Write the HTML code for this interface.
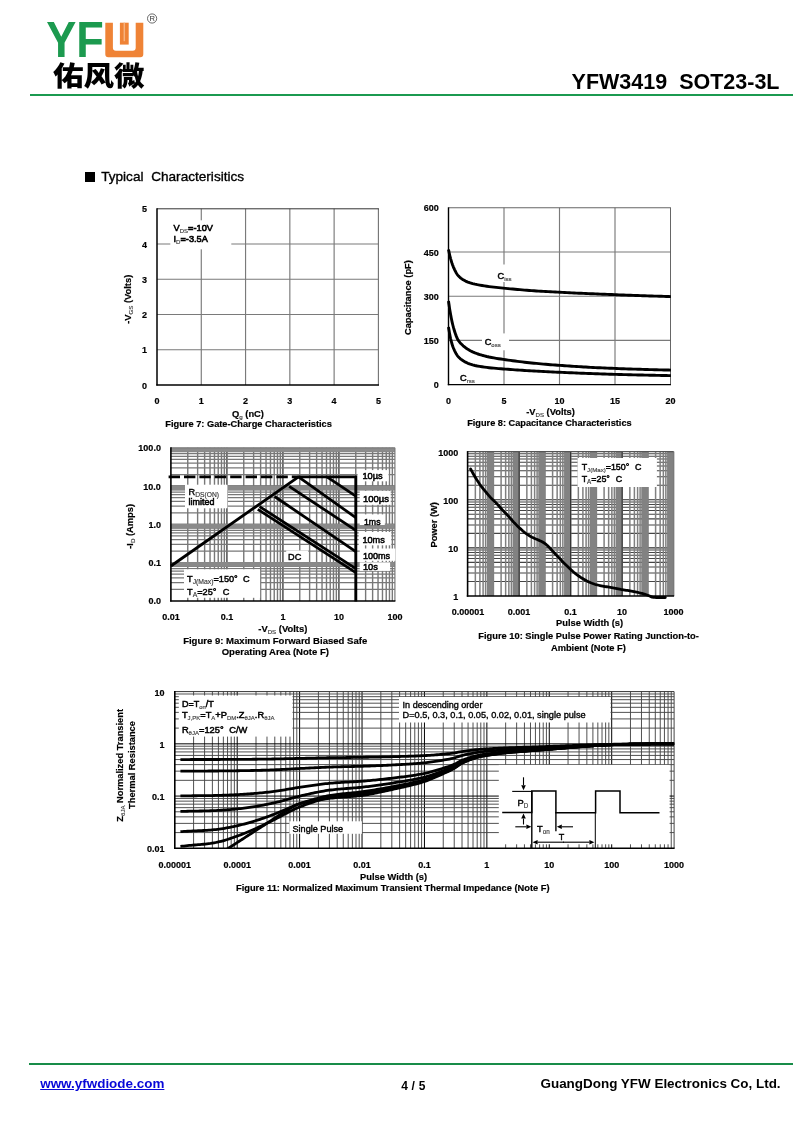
<!DOCTYPE html>
<html lang="en">
<head>
<meta charset="utf-8">
<title>YFW3419 SOT23-3L - Typical Characteristics</title>
<style>
html,body{margin:0;padding:0;background:#fff;}
body{width:800px;height:1125px;position:relative;overflow:hidden;font-family:"Liberation Sans","Noto Sans CJK SC",sans-serif;color:#000;}
.abs{position:absolute;white-space:nowrap;line-height:1;}
#rule-top{left:30px;top:94px;width:762.7px;height:2.3px;background:#1b9a50;}
#rule-bot{left:29.3px;top:1062.8px;width:763.4px;height:2.2px;background:#188c48;}
#part{right:20.5px;top:72.2px;font-size:21.5px;font-weight:bold;letter-spacing:0px;word-spacing:6px;}
#sq{left:84.5px;top:172px;width:10px;height:10px;background:#000;}
#sect{left:101.2px;top:170px;font-size:13.6px;word-spacing:3.9px;-webkit-text-stroke:0.35px #000;}
#url{left:40.2px;top:1077.4px;font-size:13.45px;font-weight:bold;color:#0808d8;text-decoration:underline;text-decoration-thickness:1.2px;text-underline-offset:1.2px;}
#pageno{left:401.2px;top:1080.4px;font-size:12px;font-weight:bold;word-spacing:0.4px;}
#corp{right:19.4px;top:1077.2px;font-size:13.45px;font-weight:bold;}
#cn{left:53px;top:62.6px;font-size:27.6px;font-weight:900;transform:scale(1.105,1);transform-origin:0 0;}
svg{position:absolute;left:0;top:0;}
svg text{font-family:"Liberation Sans","Noto Sans CJK SC",sans-serif;fill:#000;}
</style>
</head>
<body>
<div class="abs" id="rule-top"></div>
<div class="abs" id="cn">佑风微</div>
<div class="abs" id="part">YFW3419 SOT23-3L</div>
<div class="abs" id="sq"></div>
<div class="abs" id="sect">Typical Characterisitics</div>
<div class="abs" id="rule-bot"></div>
<div class="abs" id="url">www.yfwdiode.com</div>
<div class="abs" id="pageno">4 / 5</div>
<div class="abs" id="corp">GuangDong YFW Electronics Co, Ltd.</div>
<svg width="800" height="1125" viewBox="0 0 800 1125">
<g id="logo">
<text x="46.2" y="57.2" font-size="50.6" font-weight="bold" style="fill:#1c9a4f" textLength="57.6" lengthAdjust="spacingAndGlyphs">YF</text>
<path d="M105.3 22.7H112.9V47.7Q112.9 50.7 115.9 50.7H132.7Q135.7 50.7 135.7 47.7V22.7H143.3V54.2Q143.3 57.2 140.3 57.2H108.3Q105.3 57.2 105.3 54.2Z" fill="#ef8336"/>
<path d="M119.9 22.7H128.7V44.6H119.9Z" fill="#ef8336"/>
<path d="M124.3 22.7V41.2" stroke="#f7b27e" stroke-width="1.5" fill="none"/>
<circle cx="152.1" cy="18.5" r="4.6" fill="none" stroke="#444" stroke-width="0.8"/>
<text x="152.2" y="21.3" font-size="7.6" text-anchor="middle" style="fill:#333">R</text>
</g>
<g id="fig7">
<path d="M201.28 208.8V385M157 244.04H378.4M245.56 208.8V385M157 279.28H378.4M289.84 208.8V385M157 314.52H378.4M334.12 208.8V385M157 349.76H378.4" stroke="#7a7a7a" stroke-width="1.15" fill="none"/>
<line x1="378.4" y1="208.8" x2="378.4" y2="385.6" stroke="#707070" stroke-width="1.1"/>
<line x1="157" y1="208.8" x2="378.9" y2="208.8" stroke="#333" stroke-width="1.0"/>
<line x1="157" y1="208.3" x2="157" y2="385.6" stroke="#000" stroke-width="1.5"/>
<line x1="156.3" y1="385" x2="378.9" y2="385" stroke="#000" stroke-width="1.3"/>
<rect x="170.3" y="220.3" width="61" height="29" fill="#fff"/>
<text x="173.5" y="230.8" font-size="9.2" text-anchor="start" stroke="#000" stroke-width="0.6">V<tspan font-size="6.1" baseline-shift="-2.3" font-weight="normal" stroke="#444" stroke-width="0.15" style="fill:#333">DS</tspan>=-10V</text>
<text x="173.5" y="241.8" font-size="9.2" text-anchor="start" stroke="#000" stroke-width="0.6">I<tspan font-size="6.1" baseline-shift="-2.3" font-weight="normal" stroke="#444" stroke-width="0.15" style="fill:#333">D</tspan>=-3.5A</text>
<text x="144.6" y="388.6" font-size="9.0" font-weight="bold" stroke="#000" stroke-width="0.18" text-anchor="middle">0</text>
<text x="157" y="404.1" font-size="9.0" font-weight="bold" stroke="#000" stroke-width="0.18" text-anchor="middle">0</text>
<text x="144.6" y="353.36" font-size="9.0" font-weight="bold" stroke="#000" stroke-width="0.18" text-anchor="middle">1</text>
<text x="201.28" y="404.1" font-size="9.0" font-weight="bold" stroke="#000" stroke-width="0.18" text-anchor="middle">1</text>
<text x="144.6" y="318.12" font-size="9.0" font-weight="bold" stroke="#000" stroke-width="0.18" text-anchor="middle">2</text>
<text x="245.56" y="404.1" font-size="9.0" font-weight="bold" stroke="#000" stroke-width="0.18" text-anchor="middle">2</text>
<text x="144.6" y="282.88" font-size="9.0" font-weight="bold" stroke="#000" stroke-width="0.18" text-anchor="middle">3</text>
<text x="289.84" y="404.1" font-size="9.0" font-weight="bold" stroke="#000" stroke-width="0.18" text-anchor="middle">3</text>
<text x="144.6" y="247.64" font-size="9.0" font-weight="bold" stroke="#000" stroke-width="0.18" text-anchor="middle">4</text>
<text x="334.12" y="404.1" font-size="9.0" font-weight="bold" stroke="#000" stroke-width="0.18" text-anchor="middle">4</text>
<text x="144.6" y="212.4" font-size="9.0" font-weight="bold" stroke="#000" stroke-width="0.18" text-anchor="middle">5</text>
<text x="378.4" y="404.1" font-size="9.0" font-weight="bold" stroke="#000" stroke-width="0.18" text-anchor="middle">5</text>
<text x="248" y="416.6" font-size="9.3" font-weight="bold" stroke="#000" stroke-width="0.18" text-anchor="middle">Q<tspan font-size="6.2" baseline-shift="-2.3" font-weight="normal" stroke="#444" stroke-width="0.15" style="fill:#333">g</tspan> (nC)</text>
<text x="248.6" y="426.8" font-size="9.25" font-weight="bold" stroke="#000" stroke-width="0.18" text-anchor="middle">Figure 7: Gate-Charge Characteristics</text>
<text transform="translate(131.4 299.3) rotate(-90)" font-size="9.3" font-weight="bold" stroke="#000" stroke-width="0.18" text-anchor="middle">-V<tspan font-size="6.2" baseline-shift="-2.3" font-weight="normal" stroke="#444" stroke-width="0.15" style="fill:#333">GS</tspan> (Volts)</text>
</g>
<g id="fig8">
<path d="M504 207.8V384.6M448.5 252H670.5M559.5 207.8V384.6M448.5 296.2H670.5M615 207.8V384.6M448.5 340.4H670.5" stroke="#7a7a7a" stroke-width="1.15" fill="none"/>
<line x1="670.5" y1="207.8" x2="670.5" y2="385.1" stroke="#555" stroke-width="0.9"/>
<line x1="448.5" y1="207.8" x2="670.9" y2="207.8" stroke="#666" stroke-width="1.1"/>
<line x1="448.5" y1="207.3" x2="448.5" y2="385.2" stroke="#000" stroke-width="1.4"/>
<line x1="447.8" y1="384.6" x2="670.9" y2="384.6" stroke="#000" stroke-width="1.25"/>
<rect x="494" y="264.5" width="20" height="17.5" fill="#fff"/>
<rect x="482" y="333.4" width="27" height="16.9" fill="#fff"/>
<path d="M448.5 249.5 L448.81 250.99 L449.12 252.45 L449.42 253.85 L449.73 255.2 L450.04 256.48 L450.35 257.7 L450.65 258.84 L450.96 259.91 L451.27 260.95 L451.58 261.95 L451.88 262.91 L452.19 263.83 L452.5 264.72 L452.81 265.55 L453.12 266.35 L453.42 267.09 L453.73 267.79 L454.04 268.47 L454.35 269.14 L454.65 269.79 L454.96 270.42 L455.27 271.03 L455.58 271.62 L455.88 272.19 L456.19 272.74 L456.5 273.26 L456.81 273.75 L457.12 274.22 L457.42 274.65 L457.73 275.06 L458.04 275.43 L458.35 275.78 L458.65 276.11 L458.96 276.43 L459.27 276.74 L459.58 277.04 L459.88 277.33 L460.19 277.61 L460.5 277.88 L460.8 278.13 L463.16 279.81 L465.52 281.08 L467.88 282.07 L470.24 282.88 L472.6 283.58 L474.96 284.18 L477.32 284.69 L479.69 285.14 L482.05 285.55 L484.41 285.92 L486.77 286.27 L489.13 286.59 L491.49 286.89 L493.85 287.16 L496.21 287.42 L498.57 287.67 L500.93 287.9 L503.29 288.13 L505.65 288.36 L508.01 288.59 L510.37 288.82 L512.73 289.04 L515.1 289.26 L517.46 289.48 L519.82 289.68 L522.18 289.89 L524.54 290.08 L526.9 290.27 L529.26 290.45 L531.62 290.62 L533.98 290.78 L536.34 290.94 L538.7 291.09 L541.06 291.24 L543.42 291.38 L545.78 291.52 L548.14 291.66 L550.51 291.79 L552.87 291.92 L555.23 292.05 L557.59 292.17 L559.95 292.3 L562.31 292.42 L564.67 292.54 L567.03 292.65 L569.39 292.77 L571.75 292.88 L574.11 292.99 L576.47 293.1 L578.83 293.2 L581.19 293.31 L583.56 293.41 L585.92 293.51 L588.28 293.61 L590.64 293.71 L593 293.81 L595.36 293.91 L597.72 294.01 L600.08 294.1 L602.44 294.2 L604.8 294.29 L607.16 294.39 L609.52 294.48 L611.88 294.57 L614.24 294.66 L616.6 294.75 L618.97 294.84 L621.33 294.93 L623.69 295.02 L626.05 295.1 L628.41 295.19 L630.77 295.28 L633.13 295.36 L635.49 295.44 L637.85 295.53 L640.21 295.61 L642.57 295.69 L644.93 295.77 L647.29 295.85 L649.65 295.93 L652.01 296.01 L654.38 296.08 L656.74 296.16 L659.1 296.23 L661.46 296.31 L663.82 296.38 L666.18 296.46 L668.54 296.53 L670.9 296.6" stroke="#000" stroke-width="2.9" fill="none" stroke-linejoin="round"/>
<path d="M448.5 301 L448.81 303.18 L449.12 305.31 L449.42 307.37 L449.73 309.35 L450.04 311.25 L450.35 313.05 L450.65 314.75 L450.96 316.37 L451.27 317.95 L451.58 319.48 L451.88 320.96 L452.19 322.38 L452.5 323.74 L452.81 325.03 L453.12 326.24 L453.42 327.38 L453.73 328.44 L454.04 329.48 L454.35 330.49 L454.65 331.47 L454.96 332.43 L455.27 333.36 L455.58 334.26 L455.88 335.12 L456.19 335.94 L456.5 336.72 L456.81 337.46 L457.12 338.15 L457.42 338.79 L457.73 339.37 L458.04 339.9 L458.35 340.38 L458.65 340.84 L458.96 341.28 L459.27 341.7 L459.58 342.1 L459.88 342.49 L460.19 342.85 L460.5 343.2 L460.8 343.53 L463.16 345.78 L465.52 347.72 L467.88 349.36 L470.24 350.73 L472.6 351.89 L474.96 352.89 L477.32 353.75 L479.69 354.52 L482.05 355.23 L484.41 355.88 L486.77 356.48 L489.13 357.02 L491.49 357.5 L493.85 357.93 L496.21 358.33 L498.57 358.7 L500.93 359.05 L503.29 359.4 L505.65 359.74 L508.01 360.07 L510.37 360.4 L512.73 360.72 L515.1 361.04 L517.46 361.34 L519.82 361.64 L522.18 361.93 L524.54 362.2 L526.9 362.47 L529.26 362.72 L531.62 362.97 L533.98 363.2 L536.34 363.43 L538.7 363.66 L541.06 363.87 L543.42 364.08 L545.78 364.29 L548.14 364.49 L550.51 364.68 L552.87 364.87 L555.23 365.05 L557.59 365.22 L559.95 365.4 L562.31 365.56 L564.67 365.73 L567.03 365.89 L569.39 366.05 L571.75 366.21 L574.11 366.36 L576.47 366.51 L578.83 366.66 L581.19 366.8 L583.56 366.94 L585.92 367.07 L588.28 367.21 L590.64 367.33 L593 367.46 L595.36 367.58 L597.72 367.69 L600.08 367.8 L602.44 367.91 L604.8 368.02 L607.16 368.12 L609.52 368.22 L611.88 368.31 L614.24 368.41 L616.6 368.5 L618.97 368.59 L621.33 368.68 L623.69 368.76 L626.05 368.85 L628.41 368.93 L630.77 369.01 L633.13 369.08 L635.49 369.16 L637.85 369.23 L640.21 369.31 L642.57 369.38 L644.93 369.45 L647.29 369.51 L649.65 369.58 L652.01 369.65 L654.38 369.71 L656.74 369.77 L659.1 369.83 L661.46 369.89 L663.82 369.94 L666.18 370 L668.54 370.05 L670.9 370.1" stroke="#000" stroke-width="2.9" fill="none" stroke-linejoin="round"/>
<path d="M448.5 327 L448.81 328.94 L449.12 330.82 L449.42 332.62 L449.73 334.34 L450.04 335.95 L450.35 337.44 L450.65 338.81 L450.96 340.06 L451.27 341.27 L451.58 342.41 L451.88 343.5 L452.19 344.54 L452.5 345.51 L452.81 346.43 L453.12 347.28 L453.42 348.07 L453.73 348.81 L454.04 349.51 L454.35 350.19 L454.65 350.85 L454.96 351.49 L455.27 352.1 L455.58 352.69 L455.88 353.25 L456.19 353.78 L456.5 354.29 L456.81 354.78 L457.12 355.23 L457.42 355.66 L457.73 356.06 L458.04 356.43 L458.35 356.78 L458.65 357.11 L458.96 357.43 L459.27 357.73 L459.58 358.03 L459.88 358.31 L460.19 358.59 L460.5 358.85 L460.8 359.1 L463.16 360.79 L465.52 362.15 L467.88 363.29 L470.24 364.18 L472.6 364.9 L474.96 365.49 L477.32 365.98 L479.69 366.4 L482.05 366.78 L484.41 367.12 L486.77 367.43 L489.13 367.7 L491.49 367.96 L493.85 368.18 L496.21 368.39 L498.57 368.58 L500.93 368.76 L503.29 368.95 L505.65 369.13 L508.01 369.31 L510.37 369.48 L512.73 369.66 L515.1 369.83 L517.46 369.99 L519.82 370.16 L522.18 370.31 L524.54 370.47 L526.9 370.61 L529.26 370.76 L531.62 370.89 L533.98 371.03 L536.34 371.16 L538.7 371.28 L541.06 371.4 L543.42 371.52 L545.78 371.64 L548.14 371.75 L550.51 371.87 L552.87 371.98 L555.23 372.08 L557.59 372.19 L559.95 372.3 L562.31 372.4 L564.67 372.51 L567.03 372.61 L569.39 372.71 L571.75 372.82 L574.11 372.92 L576.47 373.02 L578.83 373.11 L581.19 373.21 L583.56 373.3 L585.92 373.4 L588.28 373.49 L590.64 373.57 L593 373.66 L595.36 373.74 L597.72 373.82 L600.08 373.9 L602.44 373.98 L604.8 374.05 L607.16 374.13 L609.52 374.2 L611.88 374.27 L614.24 374.33 L616.6 374.4 L618.97 374.47 L621.33 374.53 L623.69 374.59 L626.05 374.65 L628.41 374.72 L630.77 374.78 L633.13 374.83 L635.49 374.89 L637.85 374.95 L640.21 375.01 L642.57 375.06 L644.93 375.11 L647.29 375.17 L649.65 375.22 L652.01 375.27 L654.38 375.32 L656.74 375.37 L659.1 375.42 L661.46 375.47 L663.82 375.52 L666.18 375.56 L668.54 375.61 L670.9 375.65" stroke="#000" stroke-width="2.9" fill="none" stroke-linejoin="round"/>
<text x="497.6" y="278.6" font-size="9.2" text-anchor="start" stroke="#000" stroke-width="0.5">C<tspan font-size="6" baseline-shift="-2.3" font-weight="normal" stroke="#444" stroke-width="0.15" style="fill:#333">iss</tspan></text>
<text x="484.7" y="344.7" font-size="9.2" text-anchor="start" stroke="#000" stroke-width="0.5">C<tspan font-size="6" baseline-shift="-2.3" font-weight="normal" stroke="#444" stroke-width="0.15" style="fill:#333">oss</tspan></text>
<text x="460" y="380.9" font-size="9.2" text-anchor="start" stroke="#000" stroke-width="0.5">C<tspan font-size="6" baseline-shift="-2.3" font-weight="normal" stroke="#444" stroke-width="0.15" style="fill:#333">rss</tspan></text>
<text x="438.7" y="388.1" font-size="9.0" font-weight="bold" stroke="#000" stroke-width="0.18" text-anchor="end">0</text>
<text x="438.7" y="343.9" font-size="9.0" font-weight="bold" stroke="#000" stroke-width="0.18" text-anchor="end">150</text>
<text x="438.7" y="299.7" font-size="9.0" font-weight="bold" stroke="#000" stroke-width="0.18" text-anchor="end">300</text>
<text x="438.7" y="255.5" font-size="9.0" font-weight="bold" stroke="#000" stroke-width="0.18" text-anchor="end">450</text>
<text x="438.7" y="211.3" font-size="9.0" font-weight="bold" stroke="#000" stroke-width="0.18" text-anchor="end">600</text>
<text x="448.5" y="403.8" font-size="9.0" font-weight="bold" stroke="#000" stroke-width="0.18" text-anchor="middle">0</text>
<text x="504" y="403.8" font-size="9.0" font-weight="bold" stroke="#000" stroke-width="0.18" text-anchor="middle">5</text>
<text x="559.5" y="403.8" font-size="9.0" font-weight="bold" stroke="#000" stroke-width="0.18" text-anchor="middle">10</text>
<text x="615" y="403.8" font-size="9.0" font-weight="bold" stroke="#000" stroke-width="0.18" text-anchor="middle">15</text>
<text x="670.5" y="403.8" font-size="9.0" font-weight="bold" stroke="#000" stroke-width="0.18" text-anchor="middle">20</text>
<text x="550.5" y="415.3" font-size="9.3" font-weight="bold" stroke="#000" stroke-width="0.18" text-anchor="middle">-V<tspan font-size="6.2" baseline-shift="-2.3" font-weight="normal" stroke="#444" stroke-width="0.15" style="fill:#333">DS</tspan> (Volts)</text>
<text x="549.4" y="425.9" font-size="9.2" font-weight="bold" stroke="#000" stroke-width="0.18" text-anchor="middle">Figure 8: Capacitance Characteristics</text>
<text transform="translate(411 297.6) rotate(-90)" font-size="9.3" font-weight="bold" stroke="#000" stroke-width="0.18" text-anchor="middle">Capacitance (pF)</text>
</g>
<g id="fig9">
<path d="M187.76 447.8V600.9M197.62 447.8V600.9M204.62 447.8V600.9M210.04 447.8V600.9M214.48 447.8V600.9M218.23 447.8V600.9M221.47 447.8V600.9M224.34 447.8V600.9M243.76 447.8V600.9M253.62 447.8V600.9M260.62 447.8V600.9M266.04 447.8V600.9M270.48 447.8V600.9M274.23 447.8V600.9M277.47 447.8V600.9M280.34 447.8V600.9M299.76 447.8V600.9M309.62 447.8V600.9M316.62 447.8V600.9M322.04 447.8V600.9M326.48 447.8V600.9M330.23 447.8V600.9M333.47 447.8V600.9M336.34 447.8V600.9M355.76 447.8V600.9M365.62 447.8V600.9M372.62 447.8V600.9M378.04 447.8V600.9M382.48 447.8V600.9M386.23 447.8V600.9M389.47 447.8V600.9M392.34 447.8V600.9" stroke="#787878" stroke-width="1.4" fill="none"/>
<path d="M226.9 447.8V600.9M282.9 447.8V600.9M338.9 447.8V600.9" stroke="#5a5a5a" stroke-width="1.6" fill="none"/>
<path d="M170.9 589.38H394.9M170.9 582.64H394.9M170.9 577.86H394.9M170.9 574.15H394.9M170.9 571.12H394.9M170.9 568.55H394.9M170.9 566.33H394.9M170.9 564.38H394.9M170.9 551.1H394.9M170.9 544.36H394.9M170.9 539.58H394.9M170.9 535.87H394.9M170.9 532.84H394.9M170.9 530.28H394.9M170.9 528.06H394.9M170.9 526.1H394.9M170.9 512.83H394.9M170.9 506.09H394.9M170.9 501.31H394.9M170.9 497.6H394.9M170.9 494.57H394.9M170.9 492H394.9M170.9 489.78H394.9M170.9 487.83H394.9M170.9 474.55H394.9M170.9 467.81H394.9M170.9 463.03H394.9M170.9 459.32H394.9M170.9 456.29H394.9M170.9 453.73H394.9M170.9 451.51H394.9M170.9 449.55H394.9" stroke="#787878" stroke-width="1.25" fill="none"/>
<path d="M170.9 562.62H394.9M170.9 524.35H394.9M170.9 486.07H394.9" stroke="#5a5a5a" stroke-width="1.4" fill="none"/>
<rect x="170.9" y="562.02" width="224" height="4.71" fill="#8a8a8a"/>
<rect x="170.9" y="523.75" width="224" height="4.71" fill="#8a8a8a"/>
<rect x="170.9" y="485.47" width="224" height="4.71" fill="#8a8a8a"/>
<rect x="170.9" y="447.8" width="224" height="4.11" fill="#8c8c8c"/>
<line x1="394.9" y1="447.8" x2="394.9" y2="600.9" stroke="#7a7a7a" stroke-width="1.2"/>
<line x1="170.9" y1="447.8" x2="394.9" y2="447.8" stroke="#7a7a7a" stroke-width="1.2"/>
<line x1="170.9" y1="447.3" x2="170.9" y2="601.6" stroke="#000" stroke-width="1.6"/>
<line x1="170.1" y1="600.9" x2="395.4" y2="600.9" stroke="#000" stroke-width="1.5"/>
<rect x="185" y="484.7" width="42.4" height="23.6" fill="#fff"/>
<rect x="184" y="569.3" width="76.1" height="28.5" fill="#fff"/>
<rect x="286.2" y="550.5" width="22" height="11.5" fill="#fff"/>
<rect x="357.6" y="470.1" width="30.9" height="11.2" fill="#fff"/>
<rect x="359.7" y="490.9" width="31" height="13.9" fill="#fff"/>
<rect x="359.7" y="514.4" width="25.1" height="10.6" fill="#fff"/>
<rect x="358.7" y="532" width="32.5" height="13.3" fill="#fff"/>
<rect x="359.7" y="548.5" width="35.7" height="12.3" fill="#fff"/>
<rect x="359.7" y="562.4" width="30.4" height="8.5" fill="#fff"/>
<line x1="168.6" y1="476.9" x2="298.5" y2="476.9" stroke="#000" stroke-width="2.8" stroke-dasharray="11.4 4"/>
<path d="M170.9 566 L298.5 476.9 H355.8 V601.4" stroke="#000" stroke-width="2.9" fill="none" stroke-linejoin="miter"/>
<line x1="326.9" y1="476.9" x2="355.8" y2="496.2" stroke="#000" stroke-width="2.8"/>
<line x1="298.5" y1="476.9" x2="355.8" y2="517.7" stroke="#000" stroke-width="2.8"/>
<line x1="289.2" y1="486.3" x2="355.8" y2="530.4" stroke="#000" stroke-width="2.8"/>
<line x1="274.6" y1="496.5" x2="355.8" y2="551.6" stroke="#000" stroke-width="2.8"/>
<line x1="259.6" y1="506.6" x2="355.8" y2="568.6" stroke="#000" stroke-width="2.8"/>
<line x1="257.8" y1="509.4" x2="355.8" y2="572.6" stroke="#000" stroke-width="2.8"/>
<text x="188.6" y="494.5" font-size="9.2" text-anchor="start" stroke="#000" stroke-width="0.4">R<tspan font-size="6.7" baseline-shift="-2.3" font-weight="normal" stroke="#444" stroke-width="0.15" style="fill:#333">DS(ON)</tspan></text>
<text x="188.6" y="505.3" font-size="9.2" text-anchor="start" stroke="#000" stroke-width="0.55" textLength="25.9" lengthAdjust="spacingAndGlyphs">limited</text>
<text x="187" y="581.9" font-size="9.2" text-anchor="start" stroke="#000" stroke-width="0.45">T<tspan font-size="6.8" baseline-shift="-2.3" font-weight="normal" stroke="#444" stroke-width="0.15" style="fill:#333">J(Max)</tspan>=150°</text>
<text x="243" y="581.9" font-size="9.2" text-anchor="start" stroke="#000" stroke-width="0.45">C</text>
<text x="187" y="594.5" font-size="9.2" text-anchor="start" stroke="#000" stroke-width="0.45">T<tspan font-size="6.8" baseline-shift="-2.3" font-weight="normal" stroke="#444" stroke-width="0.15" style="fill:#333">A</tspan>=25°</text>
<text x="222.7" y="594.5" font-size="9.2" text-anchor="start" stroke="#000" stroke-width="0.45">C</text>
<text x="288" y="560" font-size="9.2" text-anchor="start" stroke="#000" stroke-width="0.4">DC</text>
<text x="362.4" y="478.7" font-size="9.2" text-anchor="start" stroke="#000" stroke-width="0.5" textLength="20.3" lengthAdjust="spacingAndGlyphs">10µs</text>
<text x="362.9" y="502.1" font-size="9.2" text-anchor="start" stroke="#000" stroke-width="0.5" textLength="26.1" lengthAdjust="spacingAndGlyphs">100µs</text>
<text x="364" y="525" font-size="9.2" text-anchor="start" stroke="#000" stroke-width="0.5" textLength="16.5" lengthAdjust="spacingAndGlyphs">1ms</text>
<text x="362.4" y="542.7" font-size="9.2" text-anchor="start" stroke="#000" stroke-width="0.5" textLength="22.4" lengthAdjust="spacingAndGlyphs">10ms</text>
<text x="362.9" y="559.2" font-size="9.2" text-anchor="start" stroke="#000" stroke-width="0.5" textLength="27.2" lengthAdjust="spacingAndGlyphs">100ms</text>
<text x="362.9" y="570.4" font-size="9.2" text-anchor="start" stroke="#000" stroke-width="0.5" textLength="15" lengthAdjust="spacingAndGlyphs">10s</text>
<text x="160.9" y="604.4" font-size="9.0" font-weight="bold" stroke="#000" stroke-width="0.18" text-anchor="end">0.0</text>
<text x="160.9" y="566.12" font-size="9.0" font-weight="bold" stroke="#000" stroke-width="0.18" text-anchor="end">0.1</text>
<text x="160.9" y="527.85" font-size="9.0" font-weight="bold" stroke="#000" stroke-width="0.18" text-anchor="end">1.0</text>
<text x="160.9" y="489.57" font-size="9.0" font-weight="bold" stroke="#000" stroke-width="0.18" text-anchor="end">10.0</text>
<text x="160.9" y="451.3" font-size="9.0" font-weight="bold" stroke="#000" stroke-width="0.18" text-anchor="end">100.0</text>
<text x="170.9" y="619.8" font-size="9.0" font-weight="bold" stroke="#000" stroke-width="0.18" text-anchor="middle">0.01</text>
<text x="226.9" y="619.8" font-size="9.0" font-weight="bold" stroke="#000" stroke-width="0.18" text-anchor="middle">0.1</text>
<text x="282.9" y="619.8" font-size="9.0" font-weight="bold" stroke="#000" stroke-width="0.18" text-anchor="middle">1</text>
<text x="338.9" y="619.8" font-size="9.0" font-weight="bold" stroke="#000" stroke-width="0.18" text-anchor="middle">10</text>
<text x="394.9" y="619.8" font-size="9.0" font-weight="bold" stroke="#000" stroke-width="0.18" text-anchor="middle">100</text>
<text x="282.8" y="631.9" font-size="9.4" font-weight="bold" stroke="#000" stroke-width="0.18" text-anchor="middle">-V<tspan font-size="6.2" baseline-shift="-2.3" font-weight="normal" stroke="#444" stroke-width="0.15" style="fill:#333">DS</tspan> (Volts)</text>
<text x="275.2" y="643.6" font-size="9.55" font-weight="bold" stroke="#000" stroke-width="0.18" text-anchor="middle">Figure 9: Maximum Forward Biased Safe</text>
<text x="275.3" y="655.4" font-size="9.55" font-weight="bold" stroke="#000" stroke-width="0.18" text-anchor="middle">Operating Area (Note F)</text>
<text transform="translate(133.1 526.4) rotate(-90)" font-size="9.3" font-weight="bold" stroke="#000" stroke-width="0.18" text-anchor="middle">-I<tspan font-size="6.2" baseline-shift="-2.3" font-weight="normal" stroke="#444" stroke-width="0.15" style="fill:#333">D</tspan> (Amps)</text>
</g>
<g id="fig10">
<path d="M467.6 581.51H673.6M467.6 573.03H673.6M467.6 567.02H673.6M467.6 562.36H673.6M467.6 558.54H673.6M467.6 555.32H673.6M467.6 552.53H673.6M467.6 550.07H673.6M467.6 533.38H673.6M467.6 524.9H673.6M467.6 518.89H673.6M467.6 514.22H673.6M467.6 510.41H673.6M467.6 507.19H673.6M467.6 504.4H673.6M467.6 501.94H673.6M467.6 485.24H673.6M467.6 476.77H673.6M467.6 470.75H673.6M467.6 466.09H673.6M467.6 462.28H673.6M467.6 459.06H673.6M467.6 456.26H673.6M467.6 453.8H673.6" stroke="#444" stroke-width="1.05" fill="none"/>
<path d="M467.6 547.87H673.6M467.6 499.73H673.6" stroke="#2a2a2a" stroke-width="1.1" fill="none"/>
<path d="M475.35 451.6V596M479.89 451.6V596M483.1 451.6V596M485.6 451.6V596M487.64 451.6V596M489.36 451.6V596M490.85 451.6V596M492.17 451.6V596M501.1 451.6V596M505.64 451.6V596M508.85 451.6V596M511.35 451.6V596M513.39 451.6V596M515.11 451.6V596M516.6 451.6V596M517.92 451.6V596M526.85 451.6V596M531.39 451.6V596M534.6 451.6V596M537.1 451.6V596M539.14 451.6V596M540.86 451.6V596M542.35 451.6V596M543.67 451.6V596M552.6 451.6V596M557.14 451.6V596M560.35 451.6V596M562.85 451.6V596M564.89 451.6V596M566.61 451.6V596M568.1 451.6V596M569.42 451.6V596M578.35 451.6V596M582.89 451.6V596M586.1 451.6V596M588.6 451.6V596M590.64 451.6V596M592.36 451.6V596M593.85 451.6V596M595.17 451.6V596M604.1 451.6V596M608.64 451.6V596M611.85 451.6V596M614.35 451.6V596M616.39 451.6V596M618.11 451.6V596M619.6 451.6V596M620.92 451.6V596M629.85 451.6V596M634.39 451.6V596M637.6 451.6V596M640.1 451.6V596M642.14 451.6V596M643.86 451.6V596M645.35 451.6V596M646.67 451.6V596M655.6 451.6V596M660.14 451.6V596M663.35 451.6V596M665.85 451.6V596M667.89 451.6V596M669.61 451.6V596M671.1 451.6V596M672.42 451.6V596" stroke="#808080" stroke-width="1.5" fill="none"/>
<path d="M493.35 451.6V596M519.1 451.6V596M544.85 451.6V596M570.6 451.6V596M596.35 451.6V596M622.1 451.6V596M647.85 451.6V596" stroke="#777" stroke-width="1.6" fill="none"/>
<rect x="487.16" y="451.6" width="6.69" height="144.4" fill="#828282"/>
<rect x="512.91" y="451.6" width="6.69" height="144.4" fill="#828282"/>
<rect x="538.66" y="451.6" width="6.69" height="144.4" fill="#828282"/>
<rect x="564.41" y="451.6" width="6.69" height="144.4" fill="#828282"/>
<rect x="590.16" y="451.6" width="6.69" height="144.4" fill="#828282"/>
<rect x="615.91" y="451.6" width="6.69" height="144.4" fill="#828282"/>
<rect x="641.66" y="451.6" width="6.69" height="144.4" fill="#828282"/>
<rect x="667.41" y="451.6" width="6.69" height="144.4" fill="#828282"/>
<line x1="519.1" y1="451.6" x2="519.1" y2="596" stroke="#333" stroke-width="1.1"/>
<line x1="570.6" y1="451.6" x2="570.6" y2="596" stroke="#333" stroke-width="1.1"/>
<line x1="622.1" y1="451.6" x2="622.1" y2="596" stroke="#333" stroke-width="1.1"/>
<line x1="673.6" y1="451.6" x2="673.6" y2="596" stroke="#7a7a7a" stroke-width="1.4"/>
<line x1="467.6" y1="451.6" x2="673.6" y2="451.6" stroke="#555" stroke-width="1.2"/>
<line x1="467.6" y1="451.1" x2="467.6" y2="596.7" stroke="#000" stroke-width="1.6"/>
<line x1="466.8" y1="596" x2="674.1" y2="596" stroke="#000" stroke-width="1.5"/>
<rect x="577.6" y="458" width="79.3" height="29" fill="#fff"/>
<path d="M470.6 469 L471.91 471.43 L473.21 473.78 L474.52 476.03 L475.83 478.22 L477.13 480.32 L478.44 482.33 L479.75 484.26 L481.05 486.07 L482.36 487.76 L483.67 489.36 L484.97 490.93 L486.28 492.51 L487.59 494.09 L488.89 495.63 L490.2 497.13 L491.51 498.53 L492.81 499.84 L494.12 501.09 L495.43 502.33 L496.73 503.61 L498.04 505 L499.35 506.49 L500.65 507.99 L501.96 509.46 L503.27 510.84 L504.57 512.17 L505.88 513.49 L507.19 514.84 L508.49 516.25 L509.8 517.74 L511.11 519.26 L512.41 520.76 L513.72 522.2 L515.03 523.57 L516.33 524.89 L517.64 526.17 L518.95 527.42 L520.26 528.64 L521.56 529.85 L522.87 531.04 L524.18 532.16 L525.48 533.15 L526.79 534.07 L528.1 534.92 L529.4 535.71 L530.71 536.46 L532.02 537.16 L533.32 537.81 L534.63 538.43 L535.94 539.02 L537.24 539.57 L538.55 540.13 L539.86 540.72 L541.16 541.34 L542.47 542.01 L543.78 542.77 L545.08 543.68 L546.39 544.71 L547.7 545.85 L549 547.15 L550.31 548.56 L551.62 549.99 L552.92 551.38 L554.23 552.78 L555.54 554.19 L556.84 555.59 L558.15 556.97 L559.46 558.34 L560.76 559.7 L562.07 561.06 L563.38 562.4 L564.68 563.71 L565.99 564.99 L567.3 566.25 L568.6 567.5 L569.91 568.74 L571.22 569.95 L572.52 571.12 L573.83 572.24 L575.14 573.31 L576.44 574.33 L577.75 575.31 L579.06 576.25 L580.36 577.15 L581.67 577.99 L582.98 578.8 L584.28 579.57 L585.59 580.3 L586.9 581 L588.2 581.64 L589.51 582.22 L590.82 582.78 L592.12 583.3 L593.43 583.79 L594.74 584.23 L596.04 584.61 L597.35 584.95 L598.66 585.25 L599.96 585.52 L601.27 585.78 L602.58 586.03 L603.88 586.28 L605.19 586.52 L606.5 586.75 L607.8 586.98 L609.11 587.2 L610.42 587.42 L611.72 587.65 L613.03 587.89 L614.34 588.14 L615.64 588.4 L616.95 588.66 L618.26 588.91 L619.57 589.16 L620.87 589.41 L622.18 589.63 L623.49 589.85 L624.79 590.06 L626.1 590.26 L627.41 590.46 L628.71 590.68 L630.02 590.9 L631.33 591.14 L632.63 591.39 L633.94 591.64 L635.25 591.91 L636.55 592.18 L637.86 592.46 L639.17 592.75 L640.47 593.05 L641.78 593.38 L643.09 593.72 L644.39 594.11 L645.7 594.54 L647.01 594.99 L648.31 595.5 L649.62 596.05 L650.93 596.58 L652.23 597.13 L653.54 597.35 L654.85 597.44 L656.15 597.49 L657.46 597.5 L658.77 597.5 L660.07 597.5 L661.38 597.5 L662.69 597.5 L663.99 597.5 L665.3 597.5" stroke="#000" stroke-width="2.8" fill="none" stroke-linejoin="round" stroke-linecap="round"/>
<text x="581.7" y="470.4" font-size="8.9" text-anchor="start" stroke="#000" stroke-width="0.45">T<tspan font-size="6.1" baseline-shift="-2.3" font-weight="normal" stroke="#444" stroke-width="0.15" style="fill:#333">J(Max)</tspan>=150°</text>
<text x="635" y="470.4" font-size="8.9" text-anchor="start" stroke="#000" stroke-width="0.45">C</text>
<text x="581.7" y="481.8" font-size="8.9" text-anchor="start" stroke="#000" stroke-width="0.45">T<tspan font-size="6.3" baseline-shift="-2.3" font-weight="normal" stroke="#444" stroke-width="0.15" style="fill:#333">A</tspan>=25°</text>
<text x="615.7" y="481.8" font-size="8.9" text-anchor="start" stroke="#000" stroke-width="0.45">C</text>
<text x="458.2" y="599.9" font-size="9.0" font-weight="bold" stroke="#000" stroke-width="0.18" text-anchor="end">1</text>
<text x="458.2" y="551.77" font-size="9.0" font-weight="bold" stroke="#000" stroke-width="0.18" text-anchor="end">10</text>
<text x="458.2" y="503.63" font-size="9.0" font-weight="bold" stroke="#000" stroke-width="0.18" text-anchor="end">100</text>
<text x="458.2" y="455.5" font-size="9.0" font-weight="bold" stroke="#000" stroke-width="0.18" text-anchor="end">1000</text>
<text x="468" y="615.4" font-size="9.0" font-weight="bold" stroke="#000" stroke-width="0.18" text-anchor="middle">0.00001</text>
<text x="519.1" y="615.4" font-size="9.0" font-weight="bold" stroke="#000" stroke-width="0.18" text-anchor="middle">0.001</text>
<text x="570.6" y="615.4" font-size="9.0" font-weight="bold" stroke="#000" stroke-width="0.18" text-anchor="middle">0.1</text>
<text x="622.1" y="615.4" font-size="9.0" font-weight="bold" stroke="#000" stroke-width="0.18" text-anchor="middle">10</text>
<text x="673.6" y="615.4" font-size="9.0" font-weight="bold" stroke="#000" stroke-width="0.18" text-anchor="middle">1000</text>
<text x="589.6" y="626.2" font-size="9.3" font-weight="bold" stroke="#000" stroke-width="0.18" text-anchor="middle">Pulse Width (s)</text>
<text x="588.6" y="639.4" font-size="9.3" font-weight="bold" stroke="#000" stroke-width="0.18" text-anchor="middle">Figure 10: Single Pulse Power Rating Junction-to-</text>
<text x="588.4" y="650.5" font-size="9.3" font-weight="bold" stroke="#000" stroke-width="0.18" text-anchor="middle">Ambient (Note F)</text>
<text transform="translate(437.3 524.8) rotate(-90)" font-size="9.3" font-weight="bold" stroke="#000" stroke-width="0.18" text-anchor="middle">Power (W)</text>
</g>
<g id="fig11">
<path d="M193.59 691.6V848.3M204.58 691.6V848.3M212.38 691.6V848.3M218.42 691.6V848.3M223.37 691.6V848.3M227.54 691.6V848.3M231.16 691.6V848.3M234.36 691.6V848.3M256 691.6V848.3M266.99 691.6V848.3M274.79 691.6V848.3M280.84 691.6V848.3M285.78 691.6V848.3M289.96 691.6V848.3M293.58 691.6V848.3M296.77 691.6V848.3M318.41 691.6V848.3M329.4 691.6V848.3M337.2 691.6V848.3M343.25 691.6V848.3M348.19 691.6V848.3M352.37 691.6V848.3M355.99 691.6V848.3M359.18 691.6V848.3M380.83 691.6V848.3M391.82 691.6V848.3M399.61 691.6V848.3M405.66 691.6V848.3M410.6 691.6V848.3M414.78 691.6V848.3M418.4 691.6V848.3M421.59 691.6V848.3M443.24 691.6V848.3M454.23 691.6V848.3M462.03 691.6V848.3M468.07 691.6V848.3M473.02 691.6V848.3M477.19 691.6V848.3M480.81 691.6V848.3M484.01 691.6V848.3M505.65 691.6V848.3M516.64 691.6V848.3M524.44 691.6V848.3M530.49 691.6V848.3M535.43 691.6V848.3M539.61 691.6V848.3M543.23 691.6V848.3M546.42 691.6V848.3M568.06 691.6V848.3M579.05 691.6V848.3M586.85 691.6V848.3M592.9 691.6V848.3M597.84 691.6V848.3M602.02 691.6V848.3M605.64 691.6V848.3M608.83 691.6V848.3M630.48 691.6V848.3M641.47 691.6V848.3M649.26 691.6V848.3M655.31 691.6V848.3M660.25 691.6V848.3M664.43 691.6V848.3M668.05 691.6V848.3M671.24 691.6V848.3" stroke="#484848" stroke-width="0.95" fill="none"/>
<path d="M237.21 691.6V848.3M299.62 691.6V848.3M362.04 691.6V848.3M424.45 691.6V848.3M486.86 691.6V848.3M549.28 691.6V848.3M611.69 691.6V848.3" stroke="#000" stroke-width="1.0" fill="none"/>
<path d="M174.8 832.58H674.1M174.8 823.38H674.1M174.8 816.85H674.1M174.8 811.79H674.1M174.8 807.65H674.1M174.8 804.16H674.1M174.8 801.13H674.1M174.8 798.46H674.1M174.8 780.34H674.1M174.8 771.15H674.1M174.8 764.62H674.1M174.8 759.56H674.1M174.8 755.42H674.1M174.8 751.92H674.1M174.8 748.9H674.1M174.8 746.22H674.1M174.8 728.11H674.1M174.8 718.91H674.1M174.8 712.39H674.1M174.8 707.32H674.1M174.8 703.19H674.1M174.8 699.69H674.1M174.8 696.66H674.1M174.8 693.99H674.1" stroke="#484848" stroke-width="0.95" fill="none"/>
<path d="M174.8 796.07H674.1M174.8 743.83H674.1" stroke="#000" stroke-width="1.0" fill="none"/>
<line x1="674.1" y1="691.6" x2="674.1" y2="848.3" stroke="#444" stroke-width="1.0"/>
<line x1="174.8" y1="691.6" x2="674.1" y2="691.6" stroke="#333" stroke-width="1.0"/>
<line x1="174.8" y1="691.1" x2="174.8" y2="849" stroke="#000" stroke-width="1.6"/>
<line x1="174" y1="848.3" x2="674.6" y2="848.3" stroke="#000" stroke-width="1.5"/>
<clipPath id="c11"><rect x="174.8" y="691.6" width="500.3" height="157.5"/></clipPath>
<g clip-path="url(#c11)">
<path d="M180.42 759.54 L182.19 759.54 L183.96 759.53 L185.73 759.53 L187.5 759.53 L189.26 759.53 L191.03 759.52 L192.8 759.52 L194.57 759.52 L196.34 759.52 L198.11 759.52 L199.88 759.52 L201.65 759.51 L203.42 759.51 L205.19 759.51 L206.96 759.51 L208.73 759.51 L210.5 759.5 L212.27 759.5 L214.04 759.49 L215.81 759.49 L217.58 759.49 L219.35 759.48 L221.11 759.47 L222.88 759.47 L224.65 759.46 L226.42 759.45 L228.19 759.44 L229.96 759.44 L231.73 759.43 L233.5 759.42 L235.27 759.41 L237.04 759.4 L238.81 759.38 L240.58 759.37 L242.35 759.36 L244.12 759.35 L245.89 759.33 L247.66 759.32 L249.43 759.3 L251.2 759.29 L252.97 759.27 L254.73 759.25 L256.5 759.23 L258.27 759.21 L260.04 759.19 L261.81 759.17 L263.58 759.15 L265.35 759.12 L267.12 759.1 L268.89 759.07 L270.66 759.05 L272.43 759.02 L274.2 758.99 L275.97 758.95 L277.74 758.92 L279.51 758.88 L281.28 758.85 L283.05 758.81 L284.82 758.77 L286.59 758.72 L288.35 758.68 L290.12 758.64 L291.89 758.59 L293.66 758.55 L295.43 758.5 L297.2 758.46 L298.97 758.41 L300.74 758.37 L302.51 758.33 L304.28 758.29 L306.05 758.25 L307.82 758.21 L309.59 758.16 L311.36 758.12 L313.13 758.08 L314.9 758.04 L316.67 757.99 L318.44 757.95 L320.21 757.91 L321.97 757.87 L323.74 757.84 L325.51 757.8 L327.28 757.77 L329.05 757.74 L330.82 757.71 L332.59 757.68 L334.36 757.65 L336.13 757.63 L337.9 757.61 L339.67 757.59 L341.44 757.57 L343.21 757.55 L344.98 757.53 L346.75 757.51 L348.52 757.49 L350.29 757.48 L352.06 757.46 L353.83 757.44 L355.59 757.42 L357.36 757.4 L359.13 757.37 L360.9 757.35 L362.67 757.32 L364.44 757.3 L366.21 757.27 L367.98 757.24 L369.75 757.2 L371.52 757.17 L373.29 757.14 L375.06 757.1 L376.83 757.07 L378.6 757.03 L380.37 756.99 L382.14 756.95 L383.91 756.91 L385.68 756.87 L387.45 756.83 L389.21 756.79 L390.98 756.74 L392.75 756.7 L394.52 756.65 L396.29 756.6 L398.06 756.56 L399.83 756.51 L401.6 756.46 L403.37 756.41 L405.14 756.36 L406.91 756.3 L408.68 756.25 L410.45 756.19 L412.22 756.13 L413.99 756.06 L415.76 756 L417.53 755.93 L419.3 755.85 L421.07 755.77 L422.83 755.69 L424.6 755.6 L426.37 755.51 L428.14 755.4 L429.91 755.28 L431.68 755.16 L433.45 755.03 L435.22 754.88 L436.99 754.73 L438.76 754.58 L440.53 754.42 L442.3 754.25 L444.07 754.09 L445.84 753.92 L447.61 753.74 L449.38 753.55 L451.15 753.35 L452.92 753.12 L454.69 752.87 L456.45 752.55 L458.22 752.2 L459.99 751.85 L461.76 751.54 L463.53 751.28 L465.3 751.03 L467.07 750.79 L468.84 750.57 L470.61 750.35 L472.38 750.15 L474.15 749.94 L475.92 749.75 L477.69 749.56 L479.46 749.4 L481.23 749.26 L483 749.13 L484.77 749.02 L486.54 748.91 L488.31 748.81 L490.07 748.7 L491.84 748.6 L493.61 748.5 L495.38 748.4 L497.15 748.3 L498.92 748.21 L500.69 748.12 L502.46 748.04 L504.23 747.96 L506 747.88 L507.77 747.81 L509.54 747.74 L511.31 747.68 L513.08 747.62 L514.85 747.56 L516.62 747.5 L518.39 747.44 L520.16 747.38 L521.93 747.32 L523.69 747.26 L525.46 747.2 L527.23 747.15 L529 747.09 L530.77 747.03 L532.54 746.97 L534.31 746.92 L536.08 746.86 L537.85 746.8 L539.62 746.74 L541.39 746.68 L543.16 746.62 L544.93 746.56 L546.7 746.5 L548.47 746.44 L550.24 746.38 L552.01 746.31 L553.78 746.25 L555.55 746.18 L557.31 746.11 L559.08 746.05 L560.85 745.98 L562.62 745.91 L564.39 745.84 L566.16 745.77 L567.93 745.7 L569.7 745.63 L571.47 745.56 L573.24 745.5 L575.01 745.43 L576.78 745.37 L578.55 745.3 L580.32 745.24 L582.09 745.18 L583.86 745.12 L585.63 745.06 L587.4 745 L589.17 744.93 L590.93 744.87 L592.7 744.81 L594.47 744.75 L596.24 744.69 L598.01 744.63 L599.78 744.58 L601.55 744.53 L603.32 744.48 L605.09 744.43 L606.86 744.39 L608.63 744.35 L610.4 744.31 L612.17 744.28 L613.94 744.26 L615.71 744.23 L617.48 744.2 L619.25 744.18 L621.02 744.15 L622.79 744.13 L624.55 744.11 L626.32 744.09 L628.09 744.07 L629.86 744.05 L631.63 744.03 L633.4 744.02 L635.17 744 L636.94 743.99 L638.71 743.97 L640.48 743.96 L642.25 743.95 L644.02 743.94 L645.79 743.93 L647.56 743.92 L649.33 743.91 L651.1 743.9 L652.87 743.89 L654.64 743.89 L656.41 743.88 L658.17 743.87 L659.94 743.86 L661.71 743.86 L663.48 743.85 L665.25 743.85 L667.02 743.84 L668.79 743.84 L670.56 743.84 L672.33 743.83 L674.1 743.83" stroke="#000" stroke-width="2.8" fill="none" stroke-linejoin="round"/>
<path d="M180.42 771.1 L182.19 771.09 L183.96 771.09 L185.73 771.08 L187.5 771.08 L189.26 771.07 L191.03 771.07 L192.8 771.07 L194.57 771.06 L196.34 771.06 L198.11 771.05 L199.88 771.05 L201.65 771.04 L203.42 771.04 L205.19 771.04 L206.96 771.03 L208.73 771.02 L210.5 771.02 L212.27 771.01 L214.04 771 L215.81 770.99 L217.58 770.98 L219.35 770.97 L221.11 770.95 L222.88 770.94 L224.65 770.92 L226.42 770.9 L228.19 770.88 L229.96 770.86 L231.73 770.84 L233.5 770.82 L235.27 770.79 L237.04 770.77 L238.81 770.74 L240.58 770.72 L242.35 770.69 L244.12 770.66 L245.89 770.63 L247.66 770.59 L249.43 770.56 L251.2 770.52 L252.97 770.48 L254.73 770.44 L256.5 770.39 L258.27 770.35 L260.04 770.3 L261.81 770.25 L263.58 770.2 L265.35 770.15 L267.12 770.09 L268.89 770.03 L270.66 769.97 L272.43 769.9 L274.2 769.83 L275.97 769.76 L277.74 769.68 L279.51 769.6 L281.28 769.52 L283.05 769.43 L284.82 769.34 L286.59 769.25 L288.35 769.15 L290.12 769.06 L291.89 768.96 L293.66 768.86 L295.43 768.76 L297.2 768.66 L298.97 768.56 L300.74 768.47 L302.51 768.38 L304.28 768.29 L306.05 768.2 L307.82 768.11 L309.59 768.02 L311.36 767.92 L313.13 767.83 L314.9 767.74 L316.67 767.65 L318.44 767.56 L320.21 767.48 L321.97 767.4 L323.74 767.32 L325.51 767.24 L327.28 767.17 L329.05 767.1 L330.82 767.04 L332.59 766.98 L334.36 766.93 L336.13 766.88 L337.9 766.84 L339.67 766.79 L341.44 766.75 L343.21 766.71 L344.98 766.67 L346.75 766.63 L348.52 766.6 L350.29 766.56 L352.06 766.52 L353.83 766.48 L355.59 766.44 L357.36 766.39 L359.13 766.35 L360.9 766.29 L362.67 766.24 L364.44 766.18 L366.21 766.12 L367.98 766.06 L369.75 765.99 L371.52 765.93 L373.29 765.86 L375.06 765.79 L376.83 765.71 L378.6 765.64 L380.37 765.56 L382.14 765.48 L383.91 765.4 L385.68 765.31 L387.45 765.23 L389.21 765.14 L390.98 765.05 L392.75 764.96 L394.52 764.87 L396.29 764.77 L398.06 764.68 L399.83 764.58 L401.6 764.48 L403.37 764.38 L405.14 764.28 L406.91 764.17 L408.68 764.06 L410.45 763.94 L412.22 763.82 L413.99 763.7 L415.76 763.57 L417.53 763.43 L419.3 763.29 L421.07 763.13 L422.83 762.97 L424.6 762.81 L426.37 762.62 L428.14 762.42 L429.91 762.2 L431.68 761.96 L433.45 761.71 L435.22 761.44 L436.99 761.16 L438.76 760.87 L440.53 760.58 L442.3 760.28 L444.07 759.97 L445.84 759.66 L447.61 759.34 L449.38 759.01 L451.15 758.65 L452.92 758.25 L454.69 757.81 L456.45 757.26 L458.22 756.67 L459.99 756.07 L461.76 755.55 L463.53 755.11 L465.3 754.7 L467.07 754.31 L468.84 753.94 L470.61 753.6 L472.38 753.26 L474.15 752.94 L475.92 752.62 L477.69 752.33 L479.46 752.07 L481.23 751.85 L483 751.66 L484.77 751.48 L486.54 751.32 L488.31 751.15 L490.07 750.99 L491.84 750.83 L493.61 750.67 L495.38 750.52 L497.15 750.37 L498.92 750.23 L500.69 750.09 L502.46 749.96 L504.23 749.84 L506 749.73 L507.77 749.62 L509.54 749.52 L511.31 749.43 L513.08 749.33 L514.85 749.24 L516.62 749.15 L518.39 749.06 L520.16 748.97 L521.93 748.88 L523.69 748.79 L525.46 748.71 L527.23 748.62 L529 748.53 L530.77 748.45 L532.54 748.36 L534.31 748.28 L536.08 748.19 L537.85 748.1 L539.62 748.02 L541.39 747.93 L543.16 747.84 L544.93 747.76 L546.7 747.67 L548.47 747.58 L550.24 747.48 L552.01 747.39 L553.78 747.29 L555.55 747.19 L557.31 747.1 L559.08 747 L560.85 746.89 L562.62 746.79 L564.39 746.69 L566.16 746.59 L567.93 746.49 L569.7 746.39 L571.47 746.29 L573.24 746.2 L575.01 746.1 L576.78 746.01 L578.55 745.92 L580.32 745.83 L582.09 745.75 L583.86 745.66 L585.63 745.57 L587.4 745.48 L589.17 745.39 L590.93 745.3 L592.7 745.21 L594.47 745.13 L596.24 745.04 L598.01 744.96 L599.78 744.88 L601.55 744.81 L603.32 744.74 L605.09 744.67 L606.86 744.61 L608.63 744.56 L610.4 744.51 L612.17 744.47 L613.94 744.43 L615.71 744.39 L617.48 744.35 L619.25 744.32 L621.02 744.28 L622.79 744.25 L624.55 744.22 L626.32 744.19 L628.09 744.16 L629.86 744.14 L631.63 744.11 L633.4 744.09 L635.17 744.07 L636.94 744.05 L638.71 744.03 L640.48 744.01 L642.25 744 L644.02 743.98 L645.79 743.97 L647.56 743.96 L649.33 743.94 L651.1 743.93 L652.87 743.92 L654.64 743.91 L656.41 743.9 L658.17 743.88 L659.94 743.87 L661.71 743.87 L663.48 743.86 L665.25 743.85 L667.02 743.84 L668.79 743.84 L670.56 743.84 L672.33 743.83 L674.1 743.83" stroke="#000" stroke-width="2.8" fill="none" stroke-linejoin="round"/>
<path d="M180.42 795.89 L182.19 795.87 L183.96 795.85 L185.73 795.83 L187.5 795.81 L189.26 795.8 L191.03 795.78 L192.8 795.76 L194.57 795.75 L196.34 795.73 L198.11 795.71 L199.88 795.7 L201.65 795.68 L203.42 795.67 L205.19 795.65 L206.96 795.63 L208.73 795.61 L210.5 795.58 L212.27 795.55 L214.04 795.51 L215.81 795.47 L217.58 795.43 L219.35 795.38 L221.11 795.33 L222.88 795.27 L224.65 795.21 L226.42 795.14 L228.19 795.07 L229.96 795 L231.73 794.92 L233.5 794.83 L235.27 794.74 L237.04 794.65 L238.81 794.56 L240.58 794.46 L242.35 794.35 L244.12 794.24 L245.89 794.12 L247.66 794 L249.43 793.87 L251.2 793.74 L252.97 793.6 L254.73 793.45 L256.5 793.3 L258.27 793.14 L260.04 792.97 L261.81 792.8 L263.58 792.62 L265.35 792.43 L267.12 792.24 L268.89 792.04 L270.66 791.83 L272.43 791.61 L274.2 791.38 L275.97 791.14 L277.74 790.88 L279.51 790.62 L281.28 790.35 L283.05 790.07 L284.82 789.78 L286.59 789.49 L288.35 789.19 L290.12 788.89 L291.89 788.59 L293.66 788.29 L295.43 787.99 L297.2 787.69 L298.97 787.41 L300.74 787.13 L302.51 786.87 L304.28 786.61 L306.05 786.35 L307.82 786.09 L309.59 785.82 L311.36 785.57 L313.13 785.31 L314.9 785.06 L316.67 784.81 L318.44 784.58 L320.21 784.34 L321.97 784.12 L323.74 783.91 L325.51 783.71 L327.28 783.52 L329.05 783.34 L330.82 783.18 L332.59 783.03 L334.36 782.89 L336.13 782.77 L337.9 782.65 L339.67 782.53 L341.44 782.43 L343.21 782.32 L344.98 782.22 L346.75 782.13 L348.52 782.03 L350.29 781.93 L352.06 781.84 L353.83 781.74 L355.59 781.63 L357.36 781.52 L359.13 781.4 L360.9 781.27 L362.67 781.14 L364.44 780.99 L366.21 780.84 L367.98 780.69 L369.75 780.53 L371.52 780.37 L373.29 780.2 L375.06 780.03 L376.83 779.85 L378.6 779.67 L380.37 779.49 L382.14 779.3 L383.91 779.11 L385.68 778.91 L387.45 778.71 L389.21 778.5 L390.98 778.3 L392.75 778.09 L394.52 777.87 L396.29 777.66 L398.06 777.44 L399.83 777.22 L401.6 777 L403.37 776.78 L405.14 776.55 L406.91 776.31 L408.68 776.07 L410.45 775.82 L412.22 775.56 L413.99 775.29 L415.76 775.01 L417.53 774.72 L419.3 774.42 L421.07 774.1 L422.83 773.77 L424.6 773.42 L426.37 773.04 L428.14 772.63 L429.91 772.19 L431.68 771.72 L433.45 771.22 L435.22 770.7 L436.99 770.17 L438.76 769.62 L440.53 769.06 L442.3 768.5 L444.07 767.94 L445.84 767.38 L447.61 766.81 L449.38 766.21 L451.15 765.57 L452.92 764.89 L454.69 764.13 L456.45 763.21 L458.22 762.22 L459.99 761.26 L461.76 760.42 L463.53 759.72 L465.3 759.08 L467.07 758.48 L468.84 757.91 L470.61 757.38 L472.38 756.87 L474.15 756.39 L475.92 755.92 L477.69 755.49 L479.46 755.11 L481.23 754.78 L483 754.5 L484.77 754.24 L486.54 754 L488.31 753.76 L490.07 753.53 L491.84 753.3 L493.61 753.08 L495.38 752.86 L497.15 752.65 L498.92 752.44 L500.69 752.25 L502.46 752.07 L504.23 751.9 L506 751.73 L507.77 751.59 L509.54 751.45 L511.31 751.31 L513.08 751.19 L514.85 751.06 L516.62 750.94 L518.39 750.81 L520.16 750.68 L521.93 750.56 L523.69 750.44 L525.46 750.32 L527.23 750.2 L529 750.08 L530.77 749.96 L532.54 749.84 L534.31 749.72 L536.08 749.61 L537.85 749.49 L539.62 749.37 L541.39 749.25 L543.16 749.13 L544.93 749.01 L546.7 748.89 L548.47 748.77 L550.24 748.64 L552.01 748.52 L553.78 748.39 L555.55 748.25 L557.31 748.12 L559.08 747.99 L560.85 747.85 L562.62 747.72 L564.39 747.58 L566.16 747.44 L567.93 747.31 L569.7 747.18 L571.47 747.05 L573.24 746.92 L575.01 746.79 L576.78 746.67 L578.55 746.55 L580.32 746.44 L582.09 746.32 L583.86 746.21 L585.63 746.09 L587.4 745.97 L589.17 745.86 L590.93 745.74 L592.7 745.63 L594.47 745.51 L596.24 745.4 L598.01 745.3 L599.78 745.19 L601.55 745.1 L603.32 745.01 L605.09 744.92 L606.86 744.84 L608.63 744.77 L610.4 744.71 L612.17 744.65 L613.94 744.6 L615.71 744.55 L617.48 744.5 L619.25 744.46 L621.02 744.41 L622.79 744.37 L624.55 744.33 L626.32 744.29 L628.09 744.26 L629.86 744.22 L631.63 744.19 L633.4 744.16 L635.17 744.14 L636.94 744.11 L638.71 744.09 L640.48 744.06 L642.25 744.04 L644.02 744.03 L645.79 744.01 L647.56 743.99 L649.33 743.98 L651.1 743.96 L652.87 743.94 L654.64 743.93 L656.41 743.91 L658.17 743.9 L659.94 743.89 L661.71 743.88 L663.48 743.86 L665.25 743.86 L667.02 743.85 L668.79 743.84 L670.56 743.84 L672.33 743.83 L674.1 743.83" stroke="#000" stroke-width="2.8" fill="none" stroke-linejoin="round"/>
<path d="M180.42 811.42 L182.19 811.38 L183.96 811.34 L185.73 811.3 L187.5 811.26 L189.26 811.22 L191.03 811.19 L192.8 811.15 L194.57 811.12 L196.34 811.09 L198.11 811.05 L199.88 811.02 L201.65 810.99 L203.42 810.95 L205.19 810.92 L206.96 810.87 L208.73 810.83 L210.5 810.77 L212.27 810.71 L214.04 810.64 L215.81 810.56 L217.58 810.47 L219.35 810.37 L221.11 810.26 L222.88 810.15 L224.65 810.02 L226.42 809.89 L228.19 809.74 L229.96 809.59 L231.73 809.43 L233.5 809.26 L235.27 809.08 L237.04 808.9 L238.81 808.71 L240.58 808.52 L242.35 808.31 L244.12 808.1 L245.89 807.87 L247.66 807.63 L249.43 807.39 L251.2 807.13 L252.97 806.86 L254.73 806.59 L256.5 806.3 L258.27 806 L260.04 805.69 L261.81 805.37 L263.58 805.04 L265.35 804.7 L267.12 804.35 L268.89 803.99 L270.66 803.62 L272.43 803.23 L274.2 802.83 L275.97 802.4 L277.74 801.97 L279.51 801.52 L281.28 801.06 L283.05 800.59 L284.82 800.1 L286.59 799.62 L288.35 799.13 L290.12 798.64 L291.89 798.15 L293.66 797.67 L295.43 797.19 L297.2 796.73 L298.97 796.28 L300.74 795.85 L302.51 795.45 L304.28 795.04 L306.05 794.65 L307.82 794.25 L309.59 793.86 L311.36 793.47 L313.13 793.09 L314.9 792.72 L316.67 792.35 L318.44 792 L320.21 791.66 L321.97 791.34 L323.74 791.03 L325.51 790.74 L327.28 790.47 L329.05 790.22 L330.82 789.99 L332.59 789.78 L334.36 789.58 L336.13 789.4 L337.9 789.23 L339.67 789.07 L341.44 788.92 L343.21 788.77 L344.98 788.64 L346.75 788.5 L348.52 788.37 L350.29 788.23 L352.06 788.1 L353.83 787.96 L355.59 787.81 L357.36 787.66 L359.13 787.49 L360.9 787.32 L362.67 787.13 L364.44 786.93 L366.21 786.73 L367.98 786.52 L369.75 786.3 L371.52 786.08 L373.29 785.85 L375.06 785.62 L376.83 785.38 L378.6 785.14 L380.37 784.89 L382.14 784.64 L383.91 784.38 L385.68 784.12 L387.45 783.85 L389.21 783.58 L390.98 783.31 L392.75 783.03 L394.52 782.75 L396.29 782.47 L398.06 782.19 L399.83 781.91 L401.6 781.62 L403.37 781.33 L405.14 781.03 L406.91 780.73 L408.68 780.42 L410.45 780.1 L412.22 779.77 L413.99 779.43 L415.76 779.08 L417.53 778.71 L419.3 778.33 L421.07 777.93 L422.83 777.52 L424.6 777.08 L426.37 776.62 L428.14 776.11 L429.91 775.57 L431.68 774.99 L433.45 774.38 L435.22 773.76 L436.99 773.11 L438.76 772.46 L440.53 771.79 L442.3 771.13 L444.07 770.47 L445.84 769.8 L447.61 769.13 L449.38 768.43 L451.15 767.7 L452.92 766.91 L454.69 766.03 L456.45 764.98 L458.22 763.86 L459.99 762.76 L461.76 761.82 L463.53 761.04 L465.3 760.32 L467.07 759.65 L468.84 759.02 L470.61 758.43 L472.38 757.87 L474.15 757.34 L475.92 756.82 L477.69 756.35 L479.46 755.93 L481.23 755.58 L483 755.27 L484.77 754.99 L486.54 754.73 L488.31 754.47 L490.07 754.21 L491.84 753.96 L493.61 753.72 L495.38 753.48 L497.15 753.25 L498.92 753.03 L500.69 752.82 L502.46 752.63 L504.23 752.44 L506 752.27 L507.77 752.11 L509.54 751.95 L511.31 751.81 L513.08 751.67 L514.85 751.54 L516.62 751.4 L518.39 751.27 L520.16 751.13 L521.93 751 L523.69 750.87 L525.46 750.74 L527.23 750.61 L529 750.48 L530.77 750.35 L532.54 750.23 L534.31 750.1 L536.08 749.97 L537.85 749.85 L539.62 749.72 L541.39 749.6 L543.16 749.47 L544.93 749.34 L546.7 749.21 L548.47 749.08 L550.24 748.94 L552.01 748.81 L553.78 748.67 L555.55 748.53 L557.31 748.38 L559.08 748.24 L560.85 748.1 L562.62 747.95 L564.39 747.81 L566.16 747.66 L567.93 747.52 L569.7 747.38 L571.47 747.24 L573.24 747.1 L575.01 746.97 L576.78 746.84 L578.55 746.71 L580.32 746.59 L582.09 746.47 L583.86 746.35 L585.63 746.22 L587.4 746.1 L589.17 745.97 L590.93 745.85 L592.7 745.73 L594.47 745.61 L596.24 745.49 L598.01 745.38 L599.78 745.27 L601.55 745.17 L603.32 745.07 L605.09 744.98 L606.86 744.9 L608.63 744.82 L610.4 744.76 L612.17 744.7 L613.94 744.64 L615.71 744.59 L617.48 744.54 L619.25 744.49 L621.02 744.45 L622.79 744.4 L624.55 744.36 L626.32 744.32 L628.09 744.28 L629.86 744.25 L631.63 744.21 L633.4 744.18 L635.17 744.15 L636.94 744.12 L638.71 744.1 L640.48 744.08 L642.25 744.06 L644.02 744.04 L645.79 744.02 L647.56 744 L649.33 743.98 L651.1 743.97 L652.87 743.95 L654.64 743.93 L656.41 743.92 L658.17 743.9 L659.94 743.89 L661.71 743.88 L663.48 743.87 L665.25 743.86 L667.02 743.85 L668.79 743.84 L670.56 743.84 L672.33 743.83 L674.1 743.83" stroke="#000" stroke-width="2.8" fill="none" stroke-linejoin="round"/>
<path d="M180.42 831.64 L182.19 831.53 L183.96 831.43 L185.73 831.33 L187.5 831.23 L189.26 831.14 L191.03 831.05 L192.8 830.96 L194.57 830.88 L196.34 830.8 L198.11 830.72 L199.88 830.64 L201.65 830.56 L203.42 830.48 L205.19 830.39 L206.96 830.28 L208.73 830.17 L210.5 830.04 L212.27 829.89 L214.04 829.72 L215.81 829.52 L217.58 829.31 L219.35 829.08 L221.11 828.83 L222.88 828.56 L224.65 828.27 L226.42 827.96 L228.19 827.63 L229.96 827.28 L231.73 826.92 L233.5 826.54 L235.27 826.15 L237.04 825.76 L238.81 825.36 L240.58 824.94 L242.35 824.5 L244.12 824.05 L245.89 823.58 L247.66 823.1 L249.43 822.6 L251.2 822.09 L252.97 821.56 L254.73 821.01 L256.5 820.45 L258.27 819.88 L260.04 819.3 L261.81 818.7 L263.58 818.09 L265.35 817.47 L267.12 816.84 L268.89 816.2 L270.66 815.55 L272.43 814.87 L274.2 814.18 L275.97 813.47 L277.74 812.74 L279.51 812 L281.28 811.25 L283.05 810.49 L284.82 809.73 L286.59 808.97 L288.35 808.21 L290.12 807.46 L291.89 806.72 L293.66 805.99 L295.43 805.29 L297.2 804.61 L298.97 803.96 L300.74 803.34 L302.51 802.76 L304.28 802.19 L306.05 801.63 L307.82 801.08 L309.59 800.53 L311.36 800 L313.13 799.47 L314.9 798.97 L316.67 798.48 L318.44 798 L320.21 797.55 L321.97 797.11 L323.74 796.71 L325.51 796.32 L327.28 795.96 L329.05 795.63 L330.82 795.33 L332.59 795.06 L334.36 794.8 L336.13 794.57 L337.9 794.35 L339.67 794.14 L341.44 793.95 L343.21 793.76 L344.98 793.58 L346.75 793.41 L348.52 793.24 L350.29 793.07 L352.06 792.89 L353.83 792.72 L355.59 792.53 L357.36 792.33 L359.13 792.13 L360.9 791.9 L362.67 791.67 L364.44 791.42 L366.21 791.16 L367.98 790.9 L369.75 790.63 L371.52 790.36 L373.29 790.07 L375.06 789.78 L376.83 789.49 L378.6 789.19 L380.37 788.88 L382.14 788.57 L383.91 788.26 L385.68 787.94 L387.45 787.61 L389.21 787.28 L390.98 786.95 L392.75 786.62 L394.52 786.28 L396.29 785.94 L398.06 785.61 L399.83 785.27 L401.6 784.92 L403.37 784.58 L405.14 784.22 L406.91 783.86 L408.68 783.5 L410.45 783.12 L412.22 782.73 L413.99 782.33 L415.76 781.92 L417.53 781.49 L419.3 781.05 L421.07 780.59 L422.83 780.11 L424.6 779.61 L426.37 779.07 L428.14 778.49 L429.91 777.86 L431.68 777.21 L433.45 776.52 L435.22 775.81 L436.99 775.08 L438.76 774.35 L440.53 773.6 L442.3 772.86 L444.07 772.13 L445.84 771.39 L447.61 770.65 L449.38 769.88 L451.15 769.07 L452.92 768.21 L454.69 767.25 L456.45 766.11 L458.22 764.89 L459.99 763.72 L461.76 762.7 L463.53 761.87 L465.3 761.1 L467.07 760.38 L468.84 759.72 L470.61 759.09 L472.38 758.5 L474.15 757.93 L475.92 757.38 L477.69 756.88 L479.46 756.44 L481.23 756.07 L483 755.74 L484.77 755.45 L486.54 755.17 L488.31 754.9 L490.07 754.63 L491.84 754.37 L493.61 754.11 L495.38 753.86 L497.15 753.62 L498.92 753.39 L500.69 753.18 L502.46 752.97 L504.23 752.77 L506 752.59 L507.77 752.42 L509.54 752.27 L511.31 752.12 L513.08 751.97 L514.85 751.83 L516.62 751.69 L518.39 751.55 L520.16 751.41 L521.93 751.27 L523.69 751.13 L525.46 750.99 L527.23 750.86 L529 750.72 L530.77 750.59 L532.54 750.46 L534.31 750.33 L536.08 750.2 L537.85 750.07 L539.62 749.94 L541.39 749.8 L543.16 749.67 L544.93 749.54 L546.7 749.4 L548.47 749.26 L550.24 749.12 L552.01 748.98 L553.78 748.84 L555.55 748.69 L557.31 748.54 L559.08 748.39 L560.85 748.24 L562.62 748.09 L564.39 747.94 L566.16 747.8 L567.93 747.65 L569.7 747.5 L571.47 747.36 L573.24 747.22 L575.01 747.08 L576.78 746.94 L578.55 746.81 L580.32 746.68 L582.09 746.56 L583.86 746.43 L585.63 746.3 L587.4 746.17 L589.17 746.05 L590.93 745.92 L592.7 745.79 L594.47 745.67 L596.24 745.55 L598.01 745.43 L599.78 745.32 L601.55 745.21 L603.32 745.11 L605.09 745.02 L606.86 744.93 L608.63 744.85 L610.4 744.78 L612.17 744.72 L613.94 744.67 L615.71 744.62 L617.48 744.56 L619.25 744.51 L621.02 744.47 L622.79 744.42 L624.55 744.38 L626.32 744.34 L628.09 744.3 L629.86 744.26 L631.63 744.23 L633.4 744.19 L635.17 744.16 L636.94 744.13 L638.71 744.11 L640.48 744.08 L642.25 744.06 L644.02 744.04 L645.79 744.03 L647.56 744.01 L649.33 743.99 L651.1 743.97 L652.87 743.95 L654.64 743.94 L656.41 743.92 L658.17 743.91 L659.94 743.89 L661.71 743.88 L663.48 743.87 L665.25 743.86 L667.02 743.85 L668.79 743.84 L670.56 743.84 L672.33 743.83 L674.1 743.83" stroke="#000" stroke-width="2.8" fill="none" stroke-linejoin="round"/>
<path d="M180.42 846.45 L182.19 846.23 L183.96 846.04 L185.73 845.84 L187.5 845.66 L189.26 845.48 L191.03 845.31 L192.8 845.15 L194.57 844.99 L196.34 844.84 L198.11 844.7 L199.88 844.55 L201.65 844.4 L203.42 844.24 L205.19 844.07 L206.96 843.89 L208.73 843.68 L210.5 843.44 L212.27 843.16 L214.04 842.85 L215.81 842.5 L217.58 842.13 L219.35 841.72 L221.11 841.28 L222.88 840.8 L224.65 840.3 L226.42 839.77 L228.19 839.21 L229.96 838.63 L231.73 838.03 L233.5 837.41 L235.27 836.79 L237.04 836.15 L238.81 835.51 L240.58 834.85 L242.35 834.18 L244.12 833.48 L245.89 832.77 L247.66 832.04 L249.43 831.3 L251.2 830.54 L252.97 829.77 L254.73 828.98 L256.5 828.18 L258.27 827.37 L260.04 826.56 L261.81 825.73 L263.58 824.9 L265.35 824.05 L267.12 823.21 L268.89 822.36 L270.66 821.5 L272.43 820.62 L274.2 819.72 L275.97 818.8 L277.74 817.88 L279.51 816.94 L281.28 816 L283.05 815.06 L284.82 814.12 L286.59 813.19 L288.35 812.27 L290.12 811.37 L291.89 810.48 L293.66 809.62 L295.43 808.79 L297.2 807.99 L298.97 807.23 L300.74 806.51 L302.51 805.84 L304.28 805.18 L306.05 804.54 L307.82 803.9 L309.59 803.28 L311.36 802.67 L313.13 802.08 L314.9 801.5 L316.67 800.95 L318.44 800.41 L320.21 799.91 L321.97 799.42 L323.74 798.96 L325.51 798.53 L327.28 798.14 L329.05 797.77 L330.82 797.44 L332.59 797.13 L334.36 796.85 L336.13 796.59 L337.9 796.35 L339.67 796.12 L341.44 795.91 L343.21 795.7 L344.98 795.51 L346.75 795.32 L348.52 795.13 L350.29 794.94 L352.06 794.75 L353.83 794.55 L355.59 794.35 L357.36 794.14 L359.13 793.91 L360.9 793.67 L362.67 793.41 L364.44 793.14 L366.21 792.86 L367.98 792.57 L369.75 792.28 L371.52 791.98 L373.29 791.67 L375.06 791.36 L376.83 791.04 L378.6 790.72 L380.37 790.39 L382.14 790.05 L383.91 789.71 L385.68 789.37 L387.45 789.02 L389.21 788.67 L390.98 788.31 L392.75 787.95 L394.52 787.59 L396.29 787.23 L398.06 786.87 L399.83 786.51 L401.6 786.14 L403.37 785.77 L405.14 785.39 L406.91 785.01 L408.68 784.62 L410.45 784.22 L412.22 783.81 L413.99 783.39 L415.76 782.95 L417.53 782.5 L419.3 782.03 L421.07 781.54 L422.83 781.04 L424.6 780.51 L426.37 779.95 L428.14 779.34 L429.91 778.68 L431.68 778 L433.45 777.28 L435.22 776.54 L436.99 775.78 L438.76 775.01 L440.53 774.24 L442.3 773.47 L444.07 772.71 L445.84 771.95 L447.61 771.18 L449.38 770.39 L451.15 769.55 L452.92 768.66 L454.69 767.67 L456.45 766.5 L458.22 765.25 L459.99 764.04 L461.76 763.01 L463.53 762.15 L465.3 761.36 L467.07 760.63 L468.84 759.95 L470.61 759.31 L472.38 758.71 L474.15 758.13 L475.92 757.57 L477.69 757.06 L479.46 756.61 L481.23 756.24 L483 755.9 L484.77 755.6 L486.54 755.32 L488.31 755.04 L490.07 754.77 L491.84 754.51 L493.61 754.25 L495.38 753.99 L497.15 753.75 L498.92 753.52 L500.69 753.29 L502.46 753.08 L504.23 752.88 L506 752.7 L507.77 752.53 L509.54 752.37 L511.31 752.22 L513.08 752.07 L514.85 751.93 L516.62 751.79 L518.39 751.64 L520.16 751.5 L521.93 751.36 L523.69 751.22 L525.46 751.08 L527.23 750.94 L529 750.81 L530.77 750.67 L532.54 750.54 L534.31 750.41 L536.08 750.27 L537.85 750.14 L539.62 750.01 L541.39 749.87 L543.16 749.74 L544.93 749.6 L546.7 749.47 L548.47 749.33 L550.24 749.19 L552.01 749.04 L553.78 748.9 L555.55 748.75 L557.31 748.6 L559.08 748.45 L560.85 748.29 L562.62 748.14 L564.39 747.99 L566.16 747.84 L567.93 747.69 L569.7 747.54 L571.47 747.4 L573.24 747.25 L575.01 747.11 L576.78 746.98 L578.55 746.84 L580.32 746.71 L582.09 746.59 L583.86 746.46 L585.63 746.33 L587.4 746.2 L589.17 746.07 L590.93 745.94 L592.7 745.81 L594.47 745.69 L596.24 745.57 L598.01 745.45 L599.78 745.34 L601.55 745.23 L603.32 745.13 L605.09 745.03 L606.86 744.94 L608.63 744.86 L610.4 744.79 L612.17 744.73 L613.94 744.68 L615.71 744.62 L617.48 744.57 L619.25 744.52 L621.02 744.47 L622.79 744.43 L624.55 744.38 L626.32 744.34 L628.09 744.3 L629.86 744.26 L631.63 744.23 L633.4 744.2 L635.17 744.17 L636.94 744.14 L638.71 744.11 L640.48 744.09 L642.25 744.07 L644.02 744.05 L645.79 744.03 L647.56 744.01 L649.33 743.99 L651.1 743.97 L652.87 743.95 L654.64 743.94 L656.41 743.92 L658.17 743.91 L659.94 743.89 L661.71 743.88 L663.48 743.87 L665.25 743.86 L667.02 743.85 L668.79 743.84 L670.56 743.84 L672.33 743.83 L674.1 743.83" stroke="#000" stroke-width="2.8" fill="none" stroke-linejoin="round"/>
<path d="M224.65 850.64 L226.42 849.51 L228.19 848.38 L229.96 847.24 L231.73 846.1 L233.5 844.96 L235.27 843.81 L237.04 842.66 L238.81 841.51 L240.58 840.36 L242.35 839.21 L244.12 838.06 L245.89 836.91 L247.66 835.76 L249.43 834.61 L251.2 833.46 L252.97 832.31 L254.73 831.17 L256.5 830.02 L258.27 828.88 L260.04 827.74 L261.81 826.59 L263.58 825.45 L265.35 824.31 L267.12 823.16 L268.89 822.01 L270.66 820.86 L272.43 819.69 L274.2 818.51 L275.97 817.32 L277.74 816.14 L279.51 814.96 L281.28 813.81 L283.05 812.69 L284.82 811.6 L286.59 810.54 L288.35 809.45 L290.12 808.34 L291.89 807.25 L293.66 806.22 L295.43 805.3 L297.2 804.53 L298.97 803.93 L300.74 803.44 L302.51 802.97 L304.28 802.53 L306.05 802.12 L307.82 801.73 L309.59 801.37 L311.36 801.02 L313.13 800.7 L314.9 800.4 L316.67 800.11 L318.44 799.83 L320.21 799.58 L321.97 799.33 L323.74 799.09 L325.51 798.86 L327.28 798.64 L329.05 798.42 L330.82 798.21 L332.59 798 L334.36 797.82 L336.13 797.64 L337.9 797.48 L339.67 797.33 L341.44 797.19 L343.21 797.06 L344.98 796.92 L346.75 796.79 L348.52 796.66 L350.29 796.52 L352.06 796.38 L353.83 796.24 L355.59 796.08 L357.36 795.91 L359.13 795.73 L360.9 795.53 L362.67 795.32 L364.44 795.08 L366.21 794.82 L367.98 794.53 L369.75 794.23 L371.52 793.91 L373.29 793.58 L375.06 793.23 L376.83 792.87 L378.6 792.5 L380.37 792.12 L382.14 791.73 L383.91 791.34 L385.68 790.95 L387.45 790.55 L389.21 790.15 L390.98 789.76 L392.75 789.37 L394.52 788.98 L396.29 788.59 L398.06 788.21 L399.83 787.82 L401.6 787.43 L403.37 787.03 L405.14 786.63 L406.91 786.22 L408.68 785.81 L410.45 785.38 L412.22 784.94 L413.99 784.49 L415.76 784.03 L417.53 783.55 L419.3 783.06 L421.07 782.54 L422.83 782.01 L424.6 781.46 L426.37 780.86 L428.14 780.22 L429.91 779.54 L431.68 778.81 L433.45 778.06 L435.22 777.29 L436.99 776.5 L438.76 775.7 L440.53 774.9 L442.3 774.1 L444.07 773.3 L445.84 772.52 L447.61 771.72 L449.38 770.9 L451.15 770.04 L452.92 769.12 L454.69 768.1 L456.45 766.9 L458.22 765.61 L459.99 764.38 L461.76 763.31 L463.53 762.44 L465.3 761.63 L467.07 760.89 L468.84 760.19 L470.61 759.54 L472.38 758.92 L474.15 758.33 L475.92 757.77 L477.69 757.25 L479.46 756.79 L481.23 756.4 L483 756.07 L484.77 755.76 L486.54 755.47 L488.31 755.19 L490.07 754.91 L491.84 754.64 L493.61 754.38 L495.38 754.12 L497.15 753.88 L498.92 753.64 L500.69 753.41 L502.46 753.2 L504.23 753 L506 752.81 L507.77 752.64 L509.54 752.47 L511.31 752.32 L513.08 752.17 L514.85 752.03 L516.62 751.88 L518.39 751.74 L520.16 751.59 L521.93 751.45 L523.69 751.3 L525.46 751.17 L527.23 751.03 L529 750.89 L530.77 750.75 L532.54 750.62 L534.31 750.48 L536.08 750.35 L537.85 750.21 L539.62 750.08 L541.39 749.94 L543.16 749.81 L544.93 749.67 L546.7 749.53 L548.47 749.39 L550.24 749.25 L552.01 749.1 L553.78 748.95 L555.55 748.8 L557.31 748.65 L559.08 748.5 L560.85 748.34 L562.62 748.19 L564.39 748.04 L566.16 747.88 L567.93 747.73 L569.7 747.58 L571.47 747.43 L573.24 747.29 L575.01 747.15 L576.78 747.01 L578.55 746.87 L580.32 746.74 L582.09 746.62 L583.86 746.49 L585.63 746.36 L587.4 746.22 L589.17 746.09 L590.93 745.96 L592.7 745.83 L594.47 745.71 L596.24 745.58 L598.01 745.47 L599.78 745.35 L601.55 745.24 L603.32 745.14 L605.09 745.04 L606.86 744.96 L608.63 744.88 L610.4 744.8 L612.17 744.74 L613.94 744.69 L615.71 744.63 L617.48 744.58 L619.25 744.53 L621.02 744.48 L622.79 744.43 L624.55 744.39 L626.32 744.35 L628.09 744.31 L629.86 744.27 L631.63 744.23 L633.4 744.2 L635.17 744.17 L636.94 744.14 L638.71 744.11 L640.48 744.09 L642.25 744.07 L644.02 744.05 L645.79 744.03 L647.56 744.01 L649.33 743.99 L651.1 743.97 L652.87 743.96 L654.64 743.94 L656.41 743.92 L658.17 743.91 L659.94 743.89 L661.71 743.88 L663.48 743.87 L665.25 743.86 L667.02 743.85 L668.79 743.84 L670.56 743.84 L672.33 743.83 L674.1 743.83" stroke="#000" stroke-width="2.8" fill="none" stroke-linejoin="round"/>
</g>
<rect x="178.8" y="695.5" width="113.7" height="41.1" fill="#fff"/>
<rect x="399" y="697" width="211.5" height="25.5" fill="#fff"/>
<rect x="289.4" y="821.3" width="72.5" height="12.5" fill="#fff"/>
<rect x="498.8" y="764.9" width="170.8" height="79.4" fill="#fff"/>
<path d="M502.2 812.6H531.8V791H555.9V812.8H595.6V791H620V812.8H659.5" stroke="#000" stroke-width="1.5" fill="none"/>
<line x1="531.8" y1="791" x2="531.8" y2="848.8" stroke="#000" stroke-width="1.4"/>
<line x1="555.9" y1="812" x2="555.9" y2="831.3" stroke="#000" stroke-width="1.4"/>
<line x1="595.3" y1="812" x2="595.3" y2="848" stroke="#000" stroke-width="1.0"/>
<line x1="512.2" y1="791.4" x2="532" y2="791.4" stroke="#000" stroke-width="1.1"/>
<line x1="523.5" y1="777.3" x2="523.5" y2="785.2" stroke="#000" stroke-width="1.1"/>
<path d="M523.5 790.2L521.2 785.2L525.8 785.2Z" fill="#000"/>
<line x1="523.5" y1="824.5" x2="523.5" y2="818.6" stroke="#000" stroke-width="1.1"/>
<path d="M523.5 813.6L525.8 818.6L521.2 818.6Z" fill="#000"/>
<line x1="515.3" y1="826.8" x2="526.4" y2="826.8" stroke="#000" stroke-width="1.1"/>
<path d="M531.4 826.8L526.4 829.1L526.4 824.5Z" fill="#000"/>
<line x1="573" y1="826.8" x2="561.8" y2="826.8" stroke="#000" stroke-width="1.1"/>
<path d="M556.8 826.8L561.8 824.5L561.8 829.1Z" fill="#000"/>
<line x1="564" y1="842.2" x2="537.6" y2="842.2" stroke="#000" stroke-width="1.1"/>
<path d="M532.6 842.2L537.6 839.9L537.6 844.5Z" fill="#000"/>
<line x1="563" y1="842.2" x2="589.4" y2="842.2" stroke="#000" stroke-width="1.1"/>
<path d="M594.4 842.2L589.4 844.5L589.4 839.9Z" fill="#000"/>
<text x="517.5" y="805.8" font-size="9.3" text-anchor="start" stroke="#000" stroke-width="0.4">P<tspan font-size="6.3" baseline-shift="-2.3" font-weight="normal" stroke="#444" stroke-width="0.15" style="fill:#333">D</tspan></text>
<text x="537" y="831.7" font-size="9.3" text-anchor="start" stroke="#000" stroke-width="0.4">T<tspan font-size="6.3" baseline-shift="-2.3" font-weight="normal" stroke="#444" stroke-width="0.15" style="fill:#333">on</tspan></text>
<text x="558.8" y="840.3" font-size="9.0" text-anchor="start" stroke="#000" stroke-width="0.35">T</text>
<text x="181.9" y="706.9" font-size="9.3" text-anchor="start" stroke="#000" stroke-width="0.5" textLength="31.9" lengthAdjust="spacingAndGlyphs">D=T<tspan font-size="6" baseline-shift="-2.3" font-weight="normal" stroke="#444" stroke-width="0.15" style="fill:#333">on</tspan>/T</text>
<text x="181.9" y="718.3" font-size="9.3" text-anchor="start" stroke="#000" stroke-width="0.5" textLength="92.6" lengthAdjust="spacingAndGlyphs">T<tspan font-size="6" baseline-shift="-2.3" font-weight="normal" stroke="#444" stroke-width="0.15" style="fill:#333">J,PK</tspan>=T<tspan font-size="6" baseline-shift="-2.3" font-weight="normal" stroke="#444" stroke-width="0.15" style="fill:#333">A</tspan>+P<tspan font-size="6" baseline-shift="-2.3" font-weight="normal" stroke="#444" stroke-width="0.15" style="fill:#333">DM</tspan>.Z<tspan font-size="6" baseline-shift="-2.3" font-weight="normal" stroke="#444" stroke-width="0.15" style="fill:#333">θJA</tspan>.R<tspan font-size="6" baseline-shift="-2.3" font-weight="normal" stroke="#444" stroke-width="0.15" style="fill:#333">θJA</tspan></text>
<text x="181.9" y="732.6" font-size="9.3" text-anchor="start" stroke="#000" stroke-width="0.5">R<tspan font-size="6" baseline-shift="-2.3" font-weight="normal" stroke="#444" stroke-width="0.15" style="fill:#333">θJA</tspan>=125°</text>
<text x="229.2" y="732.6" font-size="9.3" text-anchor="start" stroke="#000" stroke-width="0.5">C/W</text>
<text x="402.6" y="707.5" font-size="9.0" text-anchor="start" stroke="#000" stroke-width="0.35" textLength="79.8" lengthAdjust="spacingAndGlyphs">In descending order</text>
<text x="402.6" y="717.5" font-size="9.0" text-anchor="start" stroke="#000" stroke-width="0.35" textLength="183" lengthAdjust="spacingAndGlyphs">D=0.5, 0.3, 0.1, 0.05, 0.02, 0.01, single pulse</text>
<text x="292.5" y="831.5" font-size="9.1" text-anchor="start" stroke="#000" stroke-width="0.4" textLength="50.6" lengthAdjust="spacingAndGlyphs">Single Pulse</text>
<text x="164.6" y="852.4" font-size="9.0" font-weight="bold" stroke="#000" stroke-width="0.18" text-anchor="end">0.01</text>
<text x="164.6" y="800.17" font-size="9.0" font-weight="bold" stroke="#000" stroke-width="0.18" text-anchor="end">0.1</text>
<text x="164.6" y="747.93" font-size="9.0" font-weight="bold" stroke="#000" stroke-width="0.18" text-anchor="end">1</text>
<text x="164.6" y="695.7" font-size="9.0" font-weight="bold" stroke="#000" stroke-width="0.18" text-anchor="end">10</text>
<text x="174.8" y="868.1" font-size="9.0" font-weight="bold" stroke="#000" stroke-width="0.18" text-anchor="middle">0.00001</text>
<text x="237.21" y="868.1" font-size="9.0" font-weight="bold" stroke="#000" stroke-width="0.18" text-anchor="middle">0.0001</text>
<text x="299.62" y="868.1" font-size="9.0" font-weight="bold" stroke="#000" stroke-width="0.18" text-anchor="middle">0.001</text>
<text x="362.04" y="868.1" font-size="9.0" font-weight="bold" stroke="#000" stroke-width="0.18" text-anchor="middle">0.01</text>
<text x="424.45" y="868.1" font-size="9.0" font-weight="bold" stroke="#000" stroke-width="0.18" text-anchor="middle">0.1</text>
<text x="486.86" y="868.1" font-size="9.0" font-weight="bold" stroke="#000" stroke-width="0.18" text-anchor="middle">1</text>
<text x="549.28" y="868.1" font-size="9.0" font-weight="bold" stroke="#000" stroke-width="0.18" text-anchor="middle">10</text>
<text x="611.69" y="868.1" font-size="9.0" font-weight="bold" stroke="#000" stroke-width="0.18" text-anchor="middle">100</text>
<text x="674.1" y="868.1" font-size="9.0" font-weight="bold" stroke="#000" stroke-width="0.18" text-anchor="middle">1000</text>
<text x="393.6" y="879.7" font-size="9.3" font-weight="bold" stroke="#000" stroke-width="0.18" text-anchor="middle">Pulse Width (s)</text>
<text x="392.8" y="891.2" font-size="9.3" font-weight="bold" stroke="#000" stroke-width="0.18" text-anchor="middle">Figure 11: Normalized Maximum Transient Thermal Impedance (Note F)</text>
<text transform="translate(123.4 765.3) rotate(-90)" font-size="9.3" font-weight="bold" stroke="#000" stroke-width="0.18" text-anchor="middle">Z<tspan font-size="6" baseline-shift="-2.3" font-weight="normal" stroke="#444" stroke-width="0.15" style="fill:#333">θJA</tspan> Normalized Transient</text>
<text transform="translate(134.6 765) rotate(-90)" font-size="9.3" font-weight="bold" stroke="#000" stroke-width="0.18" text-anchor="middle">Thermal Resistance</text>
</g>
</svg>
</body>
</html>
